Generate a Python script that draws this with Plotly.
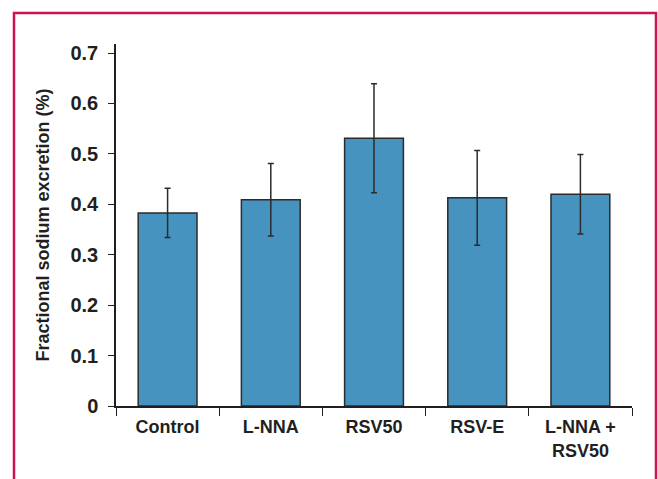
import plotly.graph_objects as go

categories = ["Control", "L-NNA", "RSV50", "RSV-E", "L-NNA +<br>RSV50"]
means = [0.383, 0.409, 0.531, 0.413, 0.420]
errors = [0.049, 0.072, 0.108, 0.094, 0.079]
ytick_vals = [0, 0.1, 0.2, 0.3, 0.4, 0.5, 0.6, 0.7]
ytick_text = ["0", "0.1", "0.2", "0.3", "0.4", "0.5", "0.6", "0.7"]

W, H = 658, 479
ml, mr, mt, mb = 116, 26, 44, 73
pw, ph = W - ml - mr, H - mt - mb

fig = go.Figure()
fig.add_trace(go.Bar(
    x=categories, y=means, width=0.57,
    marker=dict(color="#4793C0", line=dict(color="#2b2b2b", width=1.5)),
    error_y=dict(type="data", array=errors, visible=True,
                 color="#2b2b2b", thickness=1.5, width=3),
))

TXT = "#231F20"
FONT = "Liberation Sans, Arial, sans-serif"

# frame (decorative): left, top, right sides in paper coordinates
def px_x(x):
    return (x - ml) / pw

def px_y(y):
    return (H - mb - y) / ph

x0, x1 = px_x(14), px_x(656)
y_top, y_bot = px_y(13), px_y(H + 10)
fig.add_shape(type="path", xref="paper", yref="paper",
              path=f"M {x0},{y_bot} L {x0},{y_top} L {x1},{y_top} L {x1},{y_bot}",
              line=dict(color="#CC1453", width=2.5))

fig.update_layout(
    width=W, height=H,
    margin=dict(l=ml, r=mr, t=mt, b=mb, pad=0),
    paper_bgcolor="white", plot_bgcolor="white",
    showlegend=False,
    font=dict(family=FONT, color=TXT),
)
fig.update_xaxes(
    type="category", range=[-0.5, 4.5],
    showline=True, linecolor=TXT, linewidth=1.5,
    ticks="outside", tickson="boundaries", ticklen=8, tickwidth=1.2, tickcolor=TXT,
    ticklabelstandoff=4,
    tickfont=dict(size=18, family=FONT, color=TXT, weight="bold"),
    showgrid=False, zeroline=False,
)
fig.update_yaxes(
    range=[0, 0.718],
    tickmode="array", tickvals=ytick_vals, ticktext=ytick_text,
    showline=True, linecolor=TXT, linewidth=1.5,
    ticks="outside", ticklen=6, tickwidth=1.2, tickcolor=TXT,
    ticklabelstandoff=6,
    tickfont=dict(size=20, family=FONT, color=TXT, weight="bold"),
    title=dict(text="Fractional sodium excretion (%)", standoff=16,
               font=dict(size=18, family=FONT, color=TXT, weight="bold")),
    showgrid=False, zeroline=False,
)

fig.write_html("out.html")
